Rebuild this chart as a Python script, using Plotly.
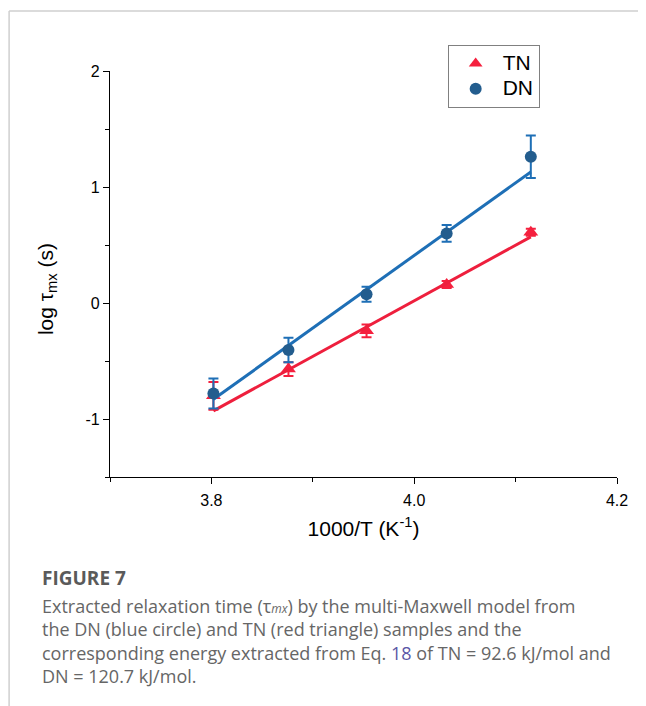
import plotly.graph_objects as go

# ---------------- data ----------------
inv_T = [3.802, 3.876, 3.953, 4.032, 4.115]          # 1000/T (K^-1)
tn_log_tau = [-0.80, -0.57, -0.24, 0.16, 0.61]
tn_err = [0.12, 0.06, 0.055, 0.03, 0.03]
dn_log_tau = [-0.78, -0.405, 0.075, 0.60, 1.26]
dn_err = [0.13, 0.105, 0.065, 0.072, 0.183]
fit_x = [3.802, 4.115]
tn_fit = [-0.93, 0.57]
dn_fit = [-0.83, 1.13]

x_ticks = [3.8, 4.0, 4.2]
x_ticktext = ["3.8", "4.0", "4.2"]
y_ticks = [2, 1, 0, -1]
y_ticktext = ["2", "1", "0", "-1"]

# ---------------- style ----------------
PAGE_W, PAGE_H = 646, 706
OFF = 8                              # browser body margin
W, H = PAGE_W - OFF, PAGE_H - OFF
L, R, T, B = 110, 617.5, 71, 477     # plot area box in page pixels
RED = "#f5203e"
RED_LINE = "#ee1f3d"
BLUE_M = "#235d8e"
BLUE_L = "#1e6fb6"
AX_FAMILY = "Arial, Liberation Sans, sans-serif"
AX_FONT = dict(family=AX_FAMILY, color="black")


def px(x):
    return (x - L) / (R - L)


def py(y):
    return (B - y) / (B - T)


def leg(name):
    return "<span style='font-size:21px'>" + name + "</span>"


fig = go.Figure()

fig.add_trace(go.Scatter(
    x=inv_T, y=tn_log_tau, mode="markers", name=leg("TN"),
    marker=dict(symbol="triangle-up", size=13, color=RED),
    error_y=dict(type="data", array=tn_err, visible=True, color=RED, thickness=2, width=5),
))
fig.add_trace(go.Scatter(
    x=fit_x, y=tn_fit, mode="lines", showlegend=False,
    line=dict(color=RED_LINE, width=3),
))
fig.add_trace(go.Scatter(
    x=fit_x, y=dn_fit, mode="lines", showlegend=False,
    line=dict(color=BLUE_L, width=3),
))
fig.add_trace(go.Scatter(
    x=inv_T, y=dn_log_tau, mode="markers", name=leg("DN"),
    marker=dict(symbol="circle", size=12, color=BLUE_M),
    error_y=dict(type="data", array=dn_err, visible=True, color=BLUE_L, thickness=2, width=5),
))

fig.update_layout(
    width=W, height=H,
    margin=dict(l=L - OFF, r=PAGE_W - R, t=T - OFF, b=PAGE_H - B, pad=0),
    paper_bgcolor="white", plot_bgcolor="white",
    showlegend=True,
    legend=dict(
        x=px(448), y=py(45), xanchor="left", yanchor="top",
        bordercolor="#808080", borderwidth=1, bgcolor="white",
        font=dict(size=17, **AX_FONT), itemsizing="constant", itemwidth=44,
        tracegroupgap=0,
    ),
    xaxis=dict(
        range=[3.7, 4.2], showgrid=False, zeroline=False,
        showline=True, linecolor="black", linewidth=1.3,
        ticks="outside", ticklen=6, tickwidth=1.3, tickcolor="black",
        tickvals=x_ticks, ticktext=x_ticktext, ticklabelstandoff=3,
        minor=dict(ticks="outside", ticklen=4, tickwidth=1.3, tickcolor="black", dtick=0.1, tick0=3.7),
        tickfont=dict(size=16, **AX_FONT),
        title=dict(text="1000/T (K<sup>-1</sup>)", font=dict(size=21, **AX_FONT), standoff=12),
    ),
    yaxis=dict(
        range=[-1.5, 2], showgrid=False, zeroline=False,
        showline=True, linecolor="black", linewidth=1.3,
        ticks="outside", ticklen=6, tickwidth=1.3, tickcolor="black",
        tickvals=y_ticks, ticktext=y_ticktext,
        minor=dict(ticks="outside", ticklen=4, tickwidth=1.3, tickcolor="black", dtick=0.5, tick0=-1.5),
        tickfont=dict(size=16, **AX_FONT),
    ),
)

# y-axis title (placed slightly below the axis centre, as in the reference)
fig.add_annotation(text="log τ<sub>mx</sub> (s)", xref="paper", yref="paper",
                   x=px(47), y=py(289), xanchor="center", yanchor="middle", textangle=-90,
                   showarrow=False, font=dict(size=21, **AX_FONT))

# page border lines
fig.add_shape(type="line", xref="paper", yref="paper",
              x0=px(9), x1=px(PAGE_W), y0=py(11), y1=py(11),
              line=dict(color="#cfcfcf", width=1.5))
fig.add_shape(type="line", xref="paper", yref="paper",
              x0=px(9), x1=px(9), y0=py(11), y1=py(PAGE_H),
              line=dict(color="#cfcfcf", width=1.5))

# caption
CAP_FONT = "Open Sans, Lato, sans-serif"
fig.add_annotation(text="<b>FIGURE 7</b>", xref="paper", yref="paper",
                   x=px(40), y=py(578), xanchor="left", yanchor="middle",
                   showarrow=False, font=dict(family=CAP_FONT, size=19, color="#5a5a5a"))
cap_lines = [
    "Extracted relaxation time (τ<span style='font-size:12px'><i>mx</i></span>) by the multi-Maxwell model from",
    "the DN (blue circle) and TN (red triangle) samples and the",
    "corresponding energy extracted from Eq. <span style='color:#5b57a6'>18</span> of TN = 92.6 kJ/mol and",
    "DN = 120.7 kJ/mol.",
]
fig.add_annotation(text="<br>".join(cap_lines), xref="paper", yref="paper",
                   x=px(40), y=py(640.5), xanchor="left", yanchor="middle", align="left",
                   showarrow=False, font=dict(family=CAP_FONT, size=18, color="#666666"))

fig.write_html("out.html")
